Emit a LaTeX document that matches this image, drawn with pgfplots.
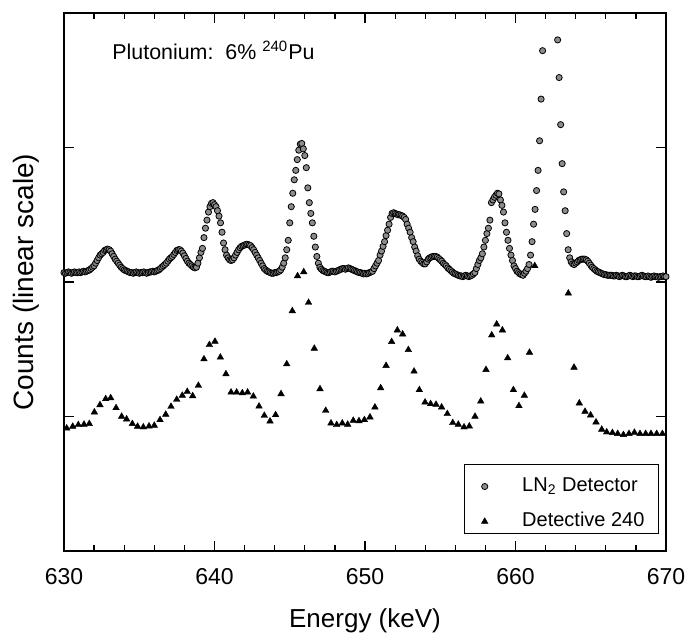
\documentclass[border=0pt]{standalone}
\usepackage{fontspec}
\setmainfont{Liberation Sans}
\usepackage{pgfplots}
\pgfplotsset{compat=1.18}

\begin{document}
\begin{tikzpicture}
\useasboundingbox (-32pt,-40.5pt) rectangle (312.5pt,275.5pt);
\begin{axis}[
  at={(0,0)}, anchor=south west,
  scale only axis, width=301pt, height=269pt,
  xmin=630, xmax=670, ymin=0, ymax=4,
  clip=false,
  xtick={630,640,650,660,670},
  minor x tick num=4,
  ytick={1,2,3}, yticklabels={},
  tick align=inside,
  major tick length=5pt, minor tick length=3pt,
  every tick/.style={black, line width=0.6pt},
  axis line style={black, line width=0.7pt},
  /pgf/number format/assume math mode=true,
  /pgf/number format/1000 sep={},
  xticklabel style={font=\fontsize{11.5}{12}\selectfont, yshift=-5pt},
  xlabel={Energy (keV)},
  xlabel style={font=\fontsize{13}{15}\selectfont, at={(axis description cs:0.5,-0.1431)}, anchor=base},
  ylabel={Counts (linear scale)},
  ylabel style={font=\fontsize{14}{16}\selectfont, at={(axis description cs:-0.051,0.5)}, anchor=base},
  legend style={at={(axis description cs:0.9884,0.0316)}, anchor=south east,
    draw=black, line width=0.5pt, font=\fontsize{10}{12}\selectfont,
    column sep=0pt, row sep=1.5pt, inner xsep=5pt, inner ysep=0.5pt,
    /tikz/every odd column/.style={column sep=0pt},
    /tikz/every even column/.style={column sep=0pt},
    nodes={inner sep=2pt, text height=11.1pt, text depth=0.9pt}},
  legend cell align=left,
  legend image code/.code={
    \node[inner sep=0pt, text height=0pt, text depth=0pt, minimum size=0pt] at (-2.5pt,0pt) {};
    \node[inner sep=0pt, text height=0pt, text depth=0pt, minimum size=0pt] at (19.5pt,0pt) {};
    \draw[#1] plot coordinates {(3.0pt,-2.5pt)};},
]
\addplot[only marks, mark=*, mark size=1.55pt,
  mark options={draw=black, fill=black!45, line width=0.4pt}] table {
x y
630.0 2.07
630.1 2.065
630.2 2.07
630.3 2.075
630.4 2.07
630.5 2.065
630.6 2.07
630.7 2.075
630.8 2.07
630.9 2.07
631.0 2.075
631.1 2.07
631.2 2.075
631.3 2.08
631.4 2.075
631.5 2.08
631.6 2.085
631.7 2.09
631.8 2.10
631.9 2.11
632.0 2.12
632.1 2.14
632.2 2.16
632.3 2.18
632.4 2.20
632.5 2.21
632.6 2.22
632.7 2.235
632.8 2.24
632.9 2.245
633.0 2.24
633.1 2.23
633.2 2.21
633.3 2.19
633.4 2.17
633.5 2.155
633.6 2.14
633.7 2.125
633.8 2.11
633.9 2.10
634.0 2.09
634.1 2.085
634.2 2.08
634.3 2.075
634.4 2.07
634.5 2.07
634.6 2.065
634.7 2.07
634.8 2.075
634.9 2.07
635.0 2.065
635.1 2.07
635.2 2.07
635.3 2.075
635.4 2.07
635.5 2.065
635.6 2.07
635.7 2.075
635.8 2.075
635.9 2.08
636.0 2.075
636.1 2.08
636.2 2.085
636.3 2.09
636.4 2.10
636.5 2.11
636.6 2.12
636.7 2.13
636.8 2.14
636.9 2.155
637.0 2.17
637.1 2.18
637.2 2.19
637.3 2.205
637.4 2.22
637.5 2.235
637.6 2.24
637.7 2.24
637.8 2.23
637.9 2.215
638.0 2.195
638.1 2.175
638.2 2.155
638.3 2.14
638.4 2.13
638.5 2.12
638.6 2.11
638.7 2.105
638.8 2.11
638.9 2.14
639.0 2.18
639.1 2.22
639.2 2.25
639.3 2.33
639.4 2.40
639.5 2.46
639.6 2.52
639.7 2.56
639.8 2.585
639.9 2.59
640.0 2.575
640.1 2.56
640.2 2.53
640.3 2.49
640.4 2.44
640.5 2.37
640.6 2.29
640.7 2.24
640.8 2.20
640.9 2.18
641.0 2.165
641.1 2.16
641.2 2.165
641.3 2.18
641.4 2.20
641.5 2.22
641.6 2.24
641.7 2.255
641.8 2.265
641.9 2.27
642.0 2.275
642.1 2.28
642.2 2.28
642.3 2.275
642.4 2.27
642.5 2.255
642.6 2.24
642.7 2.22
642.8 2.20
642.9 2.18
643.0 2.16
643.1 2.14
643.2 2.12
643.3 2.10
643.4 2.09
643.5 2.08
643.6 2.075
643.7 2.07
643.8 2.065
643.9 2.065
644.0 2.07
644.1 2.07
644.2 2.075
644.3 2.08
644.4 2.09
644.5 2.11
644.6 2.14
644.7 2.18
644.8 2.24
644.9 2.31
645.0 2.44
645.1 2.56
645.2 2.66
645.3 2.76
645.4 2.83
645.5 2.91
645.6 2.98
645.7 3.025
645.8 3.03
645.9 2.99
646.0 2.94
646.1 2.85
646.2 2.70
646.3 2.59
646.4 2.51
646.5 2.44
646.6 2.34
646.7 2.26
646.8 2.19
646.9 2.14
647.0 2.11
647.1 2.095
647.2 2.085
647.3 2.08
647.4 2.075
647.5 2.07
647.6 2.07
647.7 2.075
647.8 2.08
647.9 2.08
648.0 2.075
648.1 2.08
648.2 2.085
648.3 2.09
648.4 2.095
648.5 2.10
648.6 2.10
648.7 2.095
648.8 2.10
648.9 2.105
649.0 2.10
649.1 2.095
649.2 2.09
649.3 2.085
649.4 2.08
649.5 2.075
649.6 2.07
649.7 2.07
649.8 2.065
649.9 2.06
650.0 2.065
650.1 2.06
650.2 2.065
650.3 2.07
650.4 2.075
650.5 2.08
650.6 2.10
650.7 2.12
650.8 2.14
650.9 2.16
651.0 2.20
651.1 2.23
651.2 2.265
651.3 2.30
651.4 2.345
651.5 2.385
651.6 2.43
651.7 2.48
651.8 2.51
651.9 2.515
652.0 2.51
652.1 2.505
652.2 2.50
652.3 2.50
652.4 2.495
652.5 2.49
652.6 2.48
652.7 2.465
652.8 2.43
652.9 2.40
653.0 2.37
653.1 2.33
653.2 2.30
653.3 2.26
653.4 2.23
653.5 2.195
653.6 2.17
653.7 2.155
653.8 2.145
653.9 2.135
654.0 2.135
654.1 2.15
654.2 2.17
654.3 2.18
654.4 2.185
654.5 2.19
654.6 2.19
654.7 2.19
654.8 2.185
654.9 2.175
655.0 2.165
655.1 2.155
655.2 2.14
655.3 2.13
655.4 2.12
655.5 2.105
655.6 2.095
655.7 2.085
655.8 2.075
655.9 2.065
656.0 2.06
656.1 2.055
656.2 2.05
656.3 2.045
656.4 2.045
656.5 2.04
656.6 2.045
656.7 2.05
656.8 2.045
656.9 2.04
657.0 2.045
657.1 2.05
657.2 2.06
657.3 2.07
657.4 2.10
657.5 2.13
657.6 2.16
657.7 2.18
657.8 2.21
657.9 2.26
658.0 2.31
658.1 2.36
658.2 2.40
658.3 2.46
658.4 2.59
658.5 2.61
658.6 2.63
658.7 2.645
658.8 2.66
658.9 2.655
659.0 2.61
659.1 2.57
659.2 2.52
659.3 2.44
659.4 2.37
659.5 2.31
659.6 2.25
659.7 2.20
659.8 2.16
659.9 2.12
660.0 2.10
660.1 2.08
660.2 2.07
660.3 2.06
660.4 2.055
660.5 2.05
660.6 2.065
660.7 2.08
660.8 2.10
660.9 2.13
661.0 2.20
661.1 2.30
661.2 2.43
661.3 2.54
661.4 2.68
661.5 2.83
661.6 3.05
661.7 3.36
661.8 3.72
662.8 3.80
662.9 3.52
663.0 3.17
663.1 2.88
663.2 2.67
663.3 2.53
663.4 2.36
663.5 2.24
663.6 2.18
663.7 2.15
663.8 2.135
663.9 2.13
664.0 2.14
664.1 2.15
664.2 2.16
664.3 2.165
664.4 2.17
664.5 2.17
664.6 2.17
664.7 2.165
664.8 2.155
664.9 2.14
665.0 2.125
665.1 2.11
665.2 2.10
665.3 2.09
665.4 2.08
665.5 2.075
665.6 2.07
665.7 2.065
665.8 2.06
665.9 2.055
666.0 2.055
666.1 2.05
666.2 2.05
666.3 2.05
666.4 2.05
666.5 2.045
666.6 2.045
666.7 2.05
666.8 2.045
666.9 2.04
667.0 2.045
667.1 2.05
667.2 2.045
667.3 2.04
667.4 2.04
667.5 2.045
667.6 2.05
667.7 2.045
667.8 2.04
667.9 2.045
668.0 2.045
668.1 2.04
668.2 2.04
668.3 2.045
668.4 2.05
668.5 2.045
668.6 2.04
668.7 2.04
668.8 2.045
668.9 2.04
669.0 2.035
669.1 2.04
669.2 2.045
669.3 2.04
669.4 2.04
669.5 2.035
669.6 2.04
669.7 2.04
669.8 2.045
669.9 2.04
670.0 2.04
};
\addlegendentry{LN\textsubscript{2} Detector}
\addplot[only marks, mark=triangle*, mark size=1.9pt,
  mark options={draw=black, fill=black, line width=0.2pt}] table {
x y
630.18 0.913
630.58 0.926
630.95 0.938
631.33 0.941
631.68 0.946
632.02 1.032
632.39 1.086
632.77 1.131
633.10 1.138
633.46 1.064
633.83 1.000
634.16 0.980
634.54 0.946
634.89 0.926
635.27 0.921
635.65 0.928
636.00 0.933
636.38 0.975
636.76 1.015
637.11 1.074
637.49 1.126
637.86 1.156
638.19 1.185
638.55 1.153
638.93 1.230
639.30 1.427
639.66 1.533
640.03 1.558
640.39 1.440
640.76 1.316
641.10 1.180
641.47 1.180
641.85 1.175
642.20 1.180
642.58 1.150
642.96 1.076
643.31 1.007
643.69 0.965
644.06 1.012
644.42 1.168
644.80 1.390
645.17 1.785
645.52 2.045
645.93 2.075
646.25 1.847
646.63 1.506
647.01 1.205
647.39 1.044
647.74 0.950
648.12 0.938
648.49 0.950
648.85 0.941
649.22 0.970
649.60 0.967
649.96 0.975
650.33 0.995
650.66 1.069
651.04 1.212
651.40 1.378
651.77 1.556
652.15 1.642
652.50 1.612
652.88 1.496
653.26 1.336
653.61 1.198
653.99 1.106
654.36 1.094
654.72 1.089
655.09 1.069
655.47 1.020
655.83 0.953
656.20 0.941
656.58 0.921
656.93 0.928
657.31 1.000
657.69 1.113
658.04 1.348
658.42 1.605
658.75 1.686
659.13 1.642
659.48 1.435
659.86 1.198
660.23 1.079
660.59 1.156
660.93 1.476
661.28 2.120
663.51 1.916
663.89 1.365
664.24 1.099
664.62 1.037
664.99 1.010
665.35 0.958
665.73 0.904
666.06 0.884
666.44 0.879
666.79 0.872
667.17 0.864
667.54 0.872
667.90 0.881
668.27 0.872
668.65 0.872
669.00 0.872
669.38 0.872
669.76 0.872
};
\addlegendentry{Detective 240}
\node[anchor=base west, inner sep=0pt, font=\fontsize{10.7}{12}\selectfont]
  at (axis cs:633.19,3.652) {Plutonium:\ \ 6\%\ \textsuperscript{240}Pu};
\end{axis}
\end{tikzpicture}
\end{document}
